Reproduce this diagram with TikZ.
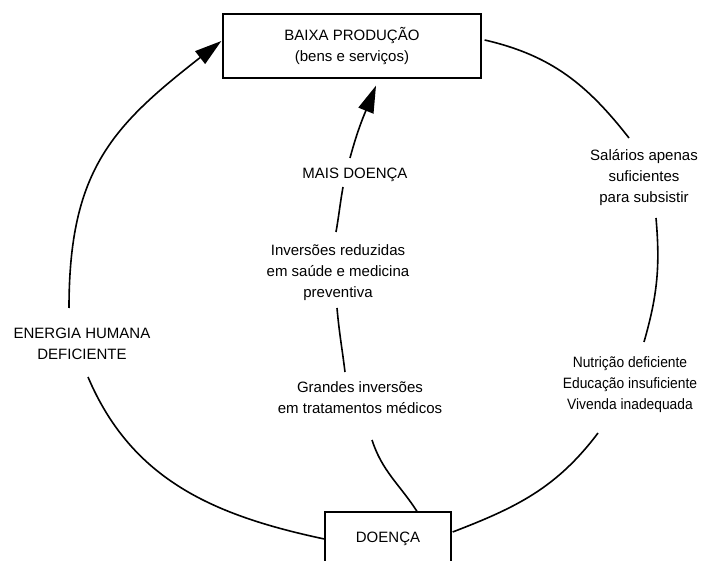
\documentclass[tikz,border=0pt]{standalone}
\usepackage{fontspec}
\setmainfont{Liberation Sans}
\newfontfamily\narrowsans[FakeStretch=0.92]{Liberation Sans}
\usetikzlibrary{arrows.meta,calc}
\begin{document}
\begin{tikzpicture}[x=1pt,y=1pt,
  every node/.style={font=\fontsize{15}{21}\selectfont},
  box/.style={draw, line width=1.3pt, minimum width=258pt, minimum height=64pt, inner sep=0pt, align=center},
  lbl/.style={inner sep=0pt, outer sep=0pt, align=center},
  conn/.style={line width=1.6pt},
  arr/.style={conn, -{Triangle[length=27pt,width=16pt]}}
]
\clip (0,0) rectangle (701,560);
% boxes
\node[box] (bp) at (352,514) {BAIXA PRODUÇÃO\\(bens e serviços)};
\node[box, minimum width=126pt, minimum height=54pt] (doenca) at (388,21) {DOENÇA};
% labels
\node[lbl] (energia) at (82,216) {ENERGIA HUMANA\\DEFICIENTE};
\node[lbl] (salarios) at (644,382) {Salários apenas\\suficientes\\para subsistir};
\node[lbl, font=\narrowsans\fontsize{15}{21}\selectfont] (nutricao) at (630,175) {Nutrição deficiente\\Educação insuficiente\\Vivenda inadequada};
\node[lbl] (grandes) at (360,162) {Grandes inversões\\em tratamentos médicos};
\node[lbl] (inversoes) at (338,287) {Inversões reduzidas\\em saúde e medicina\\preventiva};
\node[lbl] (mais) at (355,385) {MAIS DOENÇA};
% outer cycle
\draw[conn] ($(bp.east)+(3,6)$) to[out=-13,in=128] ($(salarios.center)+(-15,40)$);
\draw[conn] ($(salarios.center)+(12,-40)$) to[out=-85,in=74] ($(nutricao.center)+(14,43)$);
\draw[conn] ($(nutricao.center)+(-32,-48)$) to[out=233,in=21] ($(doenca.east)+(1,7)$);
\draw[conn] (doenca.west) to[out=168,in=-67] ($(energia.center)+(6,-33)$);
\draw[arr] ($(energia.center)+(-13,36)$) to[out=90,in=218,looseness=1.15] ($(bp.west)+(-1,5)$);
% inner path
\draw[conn] ($(doenca.north)+(29,0)$) to[out=123,in=-72] ($(grandes.center)+(12,-42)$);
\draw[conn] ($(grandes.center)+(-15,26)$) to[out=97,in=-85] ($(inversoes.center)+(-1,-35)$);
\draw[conn] ($(inversoes.center)+(-2,41)$) to[out=80,in=-100] ($(mais.center)+(-12,-12)$);
\draw[arr] ($(mais.center)+(-5,17)$) to[out=75,in=-112] ($(bp.south)+(24,-7)$);
\end{tikzpicture}
\end{document}
